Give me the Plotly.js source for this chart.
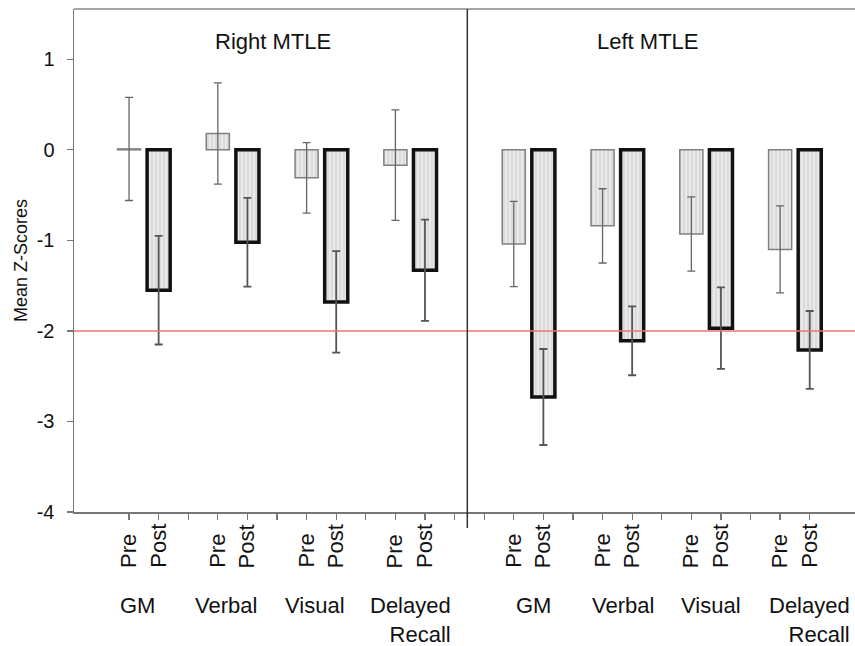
<!DOCTYPE html>
<html>
<head>
<meta charset="utf-8">
<script src="https://cdn.plot.ly/plotly-3.0.1.min.js"></script>
<style>html,body{margin:0;padding:0;background:#fff;}#chart{width:855px;height:646px;}</style>
</head>
<body>
<div id="chart"></div>
<script>
// ---- data ----
var panels = ["Right MTLE", "Left MTLE"];
var tests = ["GM", "Verbal", "Visual", "Delayed<br>Recall"];
var phases = ["Pre", "Post"];
// order: Right GM, Verbal, Visual, Delayed, Left GM, Verbal, Visual, Delayed
var preMean  = [0.01, 0.18, -0.31, -0.17, -1.04, -0.84, -0.93, -1.10];
var preErr   = [0.57, 0.56, 0.39, 0.61, 0.47, 0.41, 0.41, 0.48];
var postMean = [-1.55, -1.02, -1.68, -1.33, -2.73, -2.11, -1.97, -2.21];
var postErr  = [0.60, 0.49, 0.56, 0.56, 0.53, 0.38, 0.45, 0.43];
var cutoff = -2;
var yTicks = [-4, -3, -2, -1, 0, 1];
var yTickText = ["-4", "-3", "-2", "-1", "0", "1"];

// ---- slot positions: each test takes 3 slots (Pre, Post, gap); one extra gap between panels ----
function slot(panel, test, phase) { return 1 + panel * 13 + test * 3 + phase; }
var preX = [], postX = [], tickX = [];
for (var p = 0; p < panels.length; p++) {
  for (var t = 0; t < tests.length; t++) {
    preX.push(slot(p, t, 0));
    postX.push(slot(p, t, 1));
  }
}
for (var s = 1; s <= 24; s++) tickX.push(s);

var FONT = "Liberation Sans, Arial, sans-serif";
var fillPattern = {shape: "|", fgcolor: "#bdbdbd", bgcolor: "#e9e9e9", size: 4, solidity: 0.35, fillmode: "overlay"};

var tracePre = {
  type: "bar", x: preX, y: preMean, width: 0.78, name: "Pre",
  marker: {color: "#e9e9e9", pattern: fillPattern, line: {color: "#808080", width: 1.5}},
  error_y: {type: "data", array: preErr, visible: true, color: "#666", thickness: 1.3, width: 4},
  hoverinfo: "y"
};
var tracePost = {
  type: "bar", x: postX, y: postMean, width: 0.78, name: "Post",
  marker: {color: "#e9e9e9", pattern: fillPattern, line: {color: "#111", width: 3.5}},
  error_y: {type: "data", array: postErr, visible: true, color: "#555", thickness: 1.8, width: 4},
  hoverinfo: "y"
};

var annotations = [];
// Pre / Post labels under each bar
for (var i = 0; i < preX.length; i++) {
  [[preX[i], phases[0]], [postX[i], phases[1]]].forEach(function (d) {
    annotations.push({x: d[0], xref: "x", y: -0.1153, yref: "paper", text: d[1], textangle: -90,
      showarrow: false, xanchor: "center", yanchor: "bottom", font: {family: FONT, size: 22, color: "#111"}});
  });
}
// test group labels
var groupOffset = [-0.23, 0.18];
var delayedRight = [1.45, 1.92];
for (var p2 = 0; p2 < panels.length; p2++) {
  for (var t2 = 0; t2 < tests.length; t2++) {
    var center = slot(p2, t2, 0) + 0.5;
    var isLast = (t2 === tests.length - 1);
    annotations.push({
      x: isLast ? center + delayedRight[p2] : center + groupOffset[p2], xref: "x",
      y: -0.158, yref: "paper", text: tests[t2], showarrow: false,
      xanchor: isLast ? "right" : "center", yanchor: "top", align: isLast ? "right" : "center",
      font: {family: FONT, size: 22, color: "#111"}
    });
  }
}
// panel titles
var titleX = [5.85, 18.52];
for (var p3 = 0; p3 < panels.length; p3++) {
  annotations.push({x: titleX[p3], xref: "x", y: 0.936, yref: "paper", text: panels[p3], showarrow: false,
    xanchor: "center", yanchor: "middle", font: {family: FONT, size: 22, color: "#111"}});
}

var layout = {
  width: 855, height: 646,
  margin: {l: 74, r: 0, t: 9, b: 134},
  paper_bgcolor: "#fff", plot_bgcolor: "#fff",
  showlegend: false, barmode: "overlay",
  font: {family: FONT, color: "#111"},
  xaxis: {range: [-0.86, 25.53], tickvals: tickX, showticklabels: false, ticks: "outside", ticklen: 6,
    tickcolor: "#777", tickwidth: 1.3, showline: true, linecolor: "#777", linewidth: 1.5,
    showgrid: false, zeroline: false, fixedrange: true},
  yaxis: {range: [-4, 1.555], tickvals: yTicks, ticktext: yTickText, ticks: "outside", ticklen: 6,
    tickcolor: "#777", tickwidth: 1.3,
    showline: true, linecolor: "#777", linewidth: 1.5, showgrid: false, zeroline: false,
    tickfont: {family: FONT, size: 20, color: "#111"}, ticklabelstandoff: 8,
    title: {text: "Mean Z-Scores", font: {family: FONT, size: 18, color: "#111"}, standoff: 4}},
  shapes: [
    {type: "line", xref: "paper", x0: 0, x1: 1, yref: "y", y0: cutoff, y1: cutoff,
      line: {color: "#f07070", width: 1.5}},
    {type: "line", xref: "paper", x0: 0, x1: 1, yref: "paper", y0: 1, y1: 1,
      line: {color: "#888", width: 1.5}},
    {type: "line", xref: "x", x0: 12.43, x1: 12.43, yref: "paper", y0: -0.032, y1: 1,
      line: {color: "#333", width: 1.5}}
  ],
  annotations: annotations
};

Plotly.newPlot("chart", [tracePre, tracePost], layout, {displayModeBar: false, staticPlot: true});
</script>
</body>
</html>
